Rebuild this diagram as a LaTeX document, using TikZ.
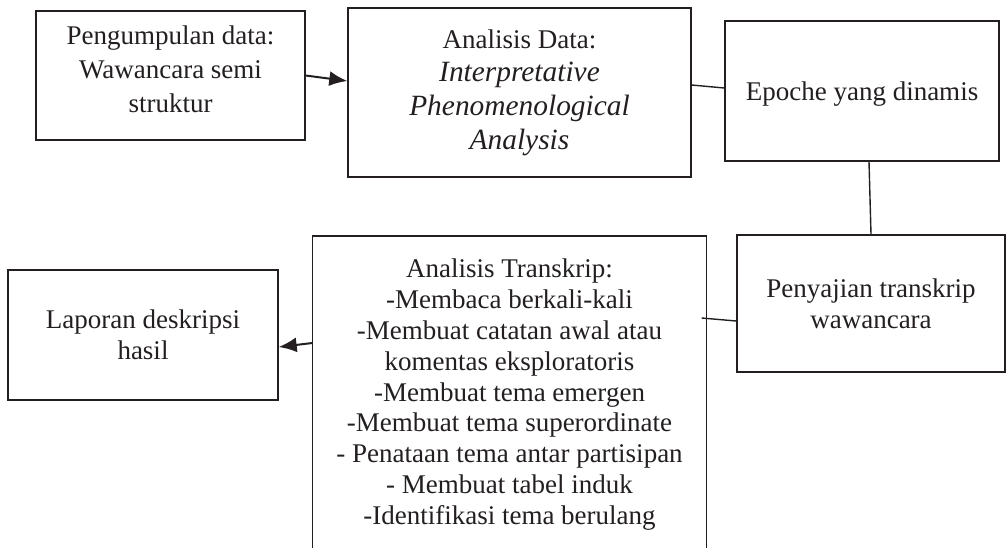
\documentclass[tikz,border=0pt]{standalone}
\usepackage{fontspec}
\setmainfont{Liberation Serif}
\usetikzlibrary{arrows.meta}
\definecolor{ink}{RGB}{35,31,32}
\newcommand{\itword}[1]{{\fontsize{14.7}{16.9}\selectfont\itshape #1}}

\begin{document}
\begin{tikzpicture}[x=0.5pt,y=0.5pt,yscale=-1,xscale=1,
		box/.style={draw=ink, line width=0.7pt, text=ink, align=center, inner sep=2pt, font=\fontsize{13.5}{15.6}\selectfont},
		loosebox/.style={box, font=\fontsize{13.5}{16.9}\selectfont},
		link/.style={draw=ink, line width=0.7pt},
		arr/.style={draw=ink, fill=ink, line width=1pt, -{Latex[length=9pt,width=7.5pt]}}]
				\useasboundingbox (0,0) rectangle (1006,548);
				\coordinate (bot) at (0,548);

				% Box: Pengumpulan data
				\node [loosebox, minimum width=134.5pt, minimum height=64.5pt, text depth=6.5pt] (b1) at (170.5,75.5) {Pengumpulan data:\\Wawancara semi\\struktur};
				% Box: Analisis data
				\node [loosebox, minimum width=171.5pt, minimum height=84.5pt] (b2) at (519.5,92.5) {Analisis Data:\\\itword{Interpretative}\\\itword{Phenomenological}\\\itword{Analysis}};
				% Box: Epoche
				\node [box, minimum width=137pt, minimum height=70pt, text depth=0pt] (b3) at (862,91) {Epoche yang dinamis};
				% Box: Penyajian transkrip
				\node [box, minimum width=134pt, minimum height=68.5pt] (b4) at (871,303.5) {Penyajian transkrip\\wawancara};
				% Box: Analisis transkrip (open at the bottom)
				\node [box, draw=none, anchor=north, minimum width=196.5pt, inner ysep=11pt, font=\fontsize{13.5}{15.45}\selectfont] (t5) at (509.5,236) {Analisis Transkrip:\\-Membaca berkali-kali\\-Membuat catatan awal atau\\komentas eksploratoris\\-Membuat tema emergen\\-Membuat tema superordinate\\- Penataan tema antar partisipan\\- Membuat tabel induk\\-Identifikasi tema berulang};
				\draw [link] (t5.north west |- bot) -- (t5.north west) -- (t5.north east) -- (t5.north east |- bot);
				% Box: Laporan
				\node [box, minimum width=135pt, minimum height=65pt] (b6) at (143,335) {Laporan deskripsi\\hasil};

				% Connectors (yshift runs downwards here, as yscale=-1)
				\draw [arr] (b1.east) -- ([yshift=-5.75pt]b2.west);
				\draw [link] ([yshift=-3.75pt]b2.east) -- ([yshift=-1.5pt]b3.west);
				\draw [link] ([xshift=3.5pt]b3.south) -- (b4.north);
				\draw [link] ([xshift=-2.5pt,yshift=41pt]t5.north east) -- ([yshift=8.75pt]b4.west);
				\draw [arr] ([yshift=53.5pt]t5.north west) -- ([yshift=6pt]b6.east);

\end{tikzpicture}
\end{document}
